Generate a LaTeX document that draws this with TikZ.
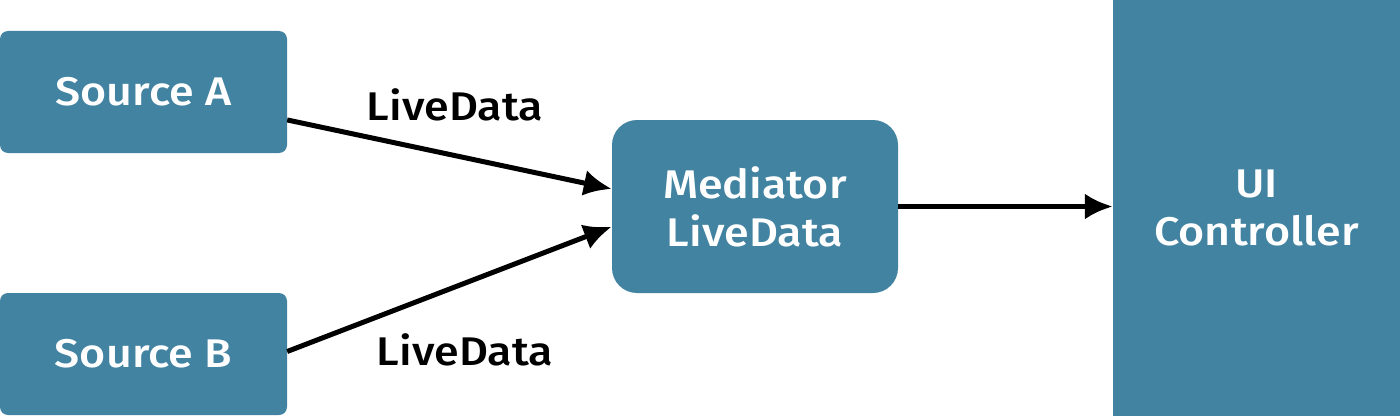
\documentclass[tikz,border=0pt]{standalone}
\usepackage{fontspec}
\setmainfont{Fira Sans Medium}[FakeStretch=1.12]
\usetikzlibrary{arrows.meta}
\definecolor{boxblue}{RGB}{66,131,161}
\tikzset{
  box/.style={fill=boxblue, text=white, inner sep=0pt, align=center, font=\fontsize{40}{48}\selectfont},
  conn/.style={line width=5pt, -{Latex[length=28pt,width=26pt]}},
  lbl/.style={font=\fontsize{40}{48}\selectfont, text=black, inner sep=0pt}
}
\begin{document}
\begin{tikzpicture}[x=1pt,y=1pt]
\useasboundingbox (0,0) rectangle (1400,416);
\node[box, rounded corners=8pt, minimum width=287pt, minimum height=122pt] (srcA) at (143.5,324) {Source A};
\node[box, rounded corners=8pt, minimum width=287pt, minimum height=122pt] (srcB) at (143.5,62) {Source B};
\node[box, rounded corners=25pt, minimum width=286pt, minimum height=173pt] (med) at (755,209.5) {Mediator\\LiveData};
\node[box, minimum width=287pt, minimum height=416pt] (ui) at (1256.5,208) {UI\\Controller};
\draw[conn] (srcA.-11.8) -- (med.173.4);
\draw[conn] (srcB.1.6) -- (med.-172.6);
\draw[conn] (med.east) -- (med.east -| ui.west);
\node[lbl] (lA) at (455,311) {LiveData};
\node[lbl] (lB) at (465,66) {LiveData};
\end{tikzpicture}
\end{document}
